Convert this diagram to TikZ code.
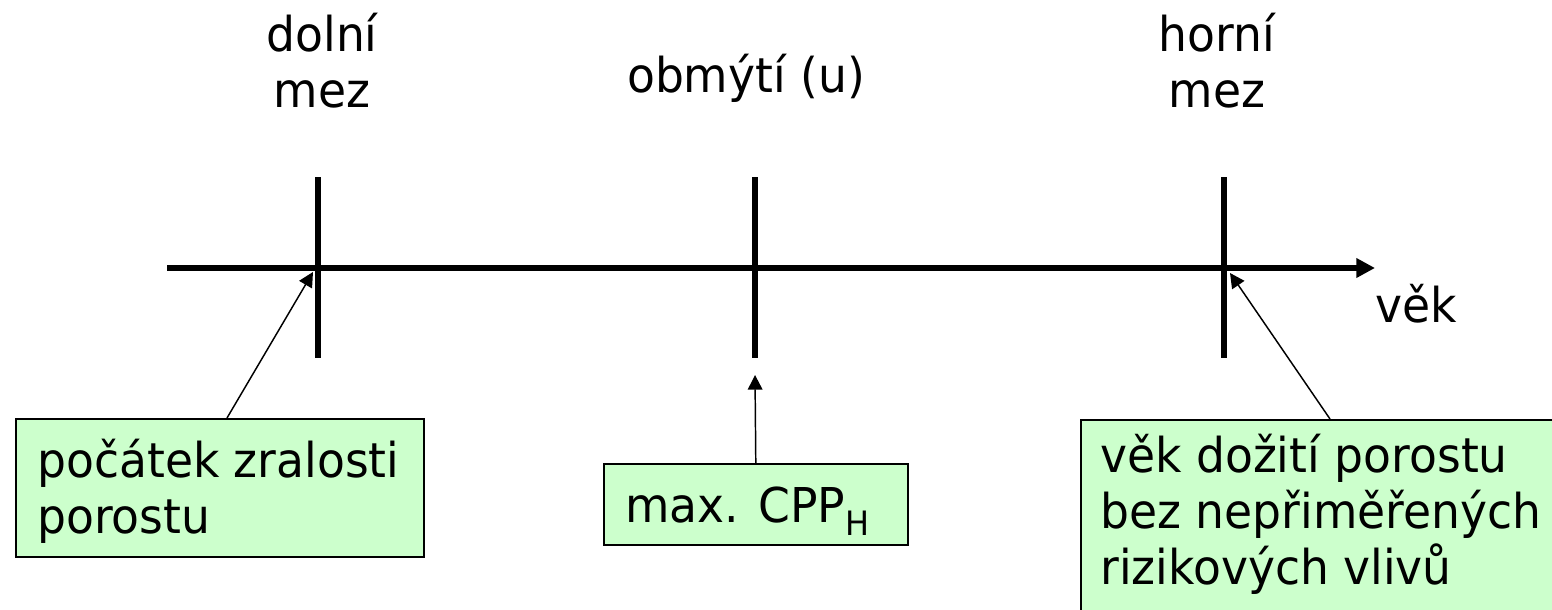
\documentclass[tikz,border=0pt]{standalone}
\usepackage{fontspec}
\setmainfont{DejaVu Sans}[FakeStretch=0.95]
\usetikzlibrary{arrows.meta,calc}
\definecolor{notegreen}{HTML}{CCFFCC}
\begin{document}
\begin{tikzpicture}[x=0.75pt,y=-0.75pt,
  every node/.style={font=\fontsize{36pt}{42pt}\selectfont, inner sep=0pt},
  axisline/.style={line width=4.5pt, -{Triangle[length=14pt,width=14pt]}},
  tickline/.style={line width=4.5pt},
  callout/.style={line width=1.1pt, -{Triangle[length=11pt,width=11pt]}},
  notebox/.style={draw, line width=1.2pt, fill=notegreen, anchor=north west},
  caption/.style={anchor=base, align=center},
  notetext/.style={anchor=base west, align=left}]
  \path[use as bounding box] (0,0) rectangle (1552,610);
  \clip (0,0) rectangle (1552,610);

  % time axis
  \coordinate (axstart) at (167,268);
  \coordinate (axend) at (1375,268);
  \draw[axisline] (axstart) -- (axend);

  % tick marks: lower limit, rotation age, upper limit
  \coordinate (lowtop) at (318,177);  \coordinate (lowbot) at (318,358);
  \coordinate (midtop) at (755,177);  \coordinate (midbot) at (755,358);
  \coordinate (uptop) at (1224,177);  \coordinate (upbot) at (1224,358);
  \draw[tickline] (lowtop) -- (lowbot);
  \draw[tickline] (midtop) -- (midbot);
  \draw[tickline] (uptop) -- (upbot);

  % labels above the axis (multi-line nodes sit on their last baseline)
  \node[caption] (lowlabel) at (322,108) {dolní\\mez};
  \node[caption] (midlabel) at (746,93) {obmýtí (u)};
  \node[caption] (uplabel) at (1217,108) {horní\\mez};
  \node[caption] (agelabel) at (1416,322) {věk};

  % green notes
  \node[notebox, minimum width=306pt, minimum height=103.5pt] (leftbox) at (15,418) {};
  \node[notetext] (lefttext) at (37,533) {počátek zralosti\\porostu};

  \node[notebox, minimum width=228pt, minimum height=60.75pt] (midbox) at (603,463) {};
  \node[notetext] (midtext) at (625,522) {max. CPP\textsubscript{H}};

  \node[notebox, minimum width=390pt, minimum height=165pt] (rightbox) at (1080,419) {};
  \node[notetext] (righttext) at (1100,584) {věk dožití porostu\\bez nepřiměřených\\rizikových vlivů};

  % pointers from the notes to the axis
  \coordinate (lowpoint) at (313,272);
  \coordinate (midpoint) at (755,375);
  \coordinate (uppoint) at (1230,273);
  \draw[callout] ($(leftbox.north west)+(212,0)$) -- (lowpoint);
  \draw[callout] (midbox.north) -- (midpoint);
  \draw[callout] ($(rightbox.north west)+(250,0)$) -- (uppoint);
\end{tikzpicture}
\end{document}
